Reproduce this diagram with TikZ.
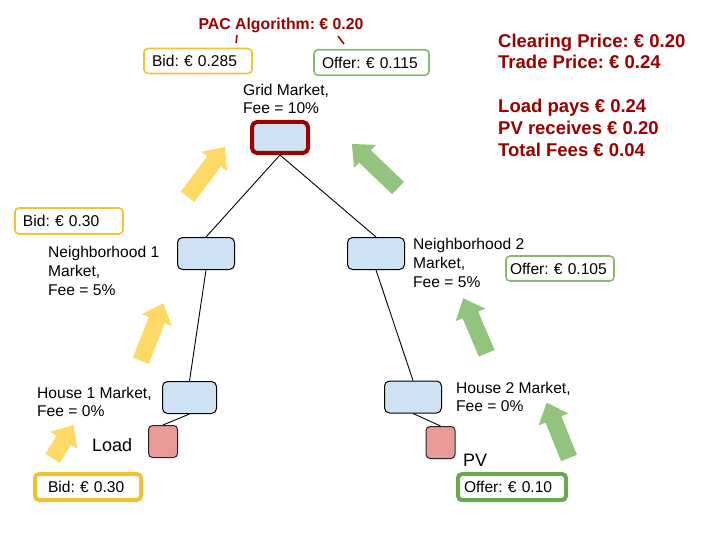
\documentclass[tikz,border=0pt]{standalone}
\usepackage{fontspec}
\setmainfont{Liberation Sans}
\usetikzlibrary{calc}
\frenchspacing
\definecolor{nodeblue}{HTML}{CFE2F3}
\definecolor{devred}{HTML}{EA9999}
\definecolor{darkred}{HTML}{990000}
\definecolor{bidyellow}{HTML}{F1C232}
\definecolor{arrowyellow}{HTML}{FFD966}
\definecolor{offgreen}{HTML}{6AA84F}
\definecolor{arrowgreen}{HTML}{93C47D}
\newcommand\blockarrow[3]{%
  \coordinate (ba-t) at (#1);
  \coordinate (ba-h) at (#2);
  \coordinate (ba-b) at ($(ba-h)!18pt!(ba-t)$);
  \fill[#3] ($(ba-t)!8.5pt!90:(ba-h)$) -- ($(ba-b)!8.5pt!-90:(ba-t)$)
    -- ($(ba-b)!16pt!-90:(ba-t)$) -- (ba-h) -- ($(ba-b)!16pt!90:(ba-t)$)
    -- ($(ba-b)!8.5pt!90:(ba-t)$) -- ($(ba-t)!8.5pt!-90:(ba-h)$) -- cycle;
}
\tikzset{
  mkt/.style={draw=black, line width=1pt, fill=nodeblue, rounded corners=5pt,
    minimum width=57pt, minimum height=32pt, inner sep=0pt},
  dev/.style={draw=black!85, line width=1pt, fill=devred, rounded corners=4pt,
    minimum width=29pt, minimum height=32pt, inner sep=0pt},
  lbl/.style={anchor=west, inner sep=0pt, align=left},
  tag/.style={rounded corners=4pt, fill=white, inner sep=0pt, align=left},
  bidthin/.style={tag, draw=bidyellow, line width=1.6pt},
  bidthick/.style={tag, draw=bidyellow, line width=4pt},
  offthin/.style={tag, draw=offgreen!80, line width=1.6pt},
  offthick/.style={tag, draw=offgreen, line width=4pt},
  summary/.style={anchor=west, inner sep=0pt, text=darkred,
    font=\fontsize{18.5}{21.7}\selectfont\bfseries, text height=13pt, text depth=4pt},
  conn/.style={draw=black, line width=0.9pt},
}
\begin{document}
\begin{tikzpicture}[x=1pt, y=-1pt, font=\fontsize{15.6}{18.8}\selectfont]
\useasboundingbox (0,0) rectangle (720,540);
\fill[white] (0,0) rectangle (720,540);

% block arrows
\blockarrow{187.5,196.7}{225,147}{arrowyellow}
\blockarrow{140.8,360.8}{163.3,303.3}{arrowyellow}
\blockarrow{52.5,458.3}{73.3,425}{arrowyellow}
\blockarrow{398,188}{352,144}{arrowgreen}
\blockarrow{486.7,353.3}{463.3,298.3}{arrowgreen}
\blockarrow{569,458}{546.7,402.7}{arrowgreen}

% market nodes
\node[mkt, draw=darkred, line width=4pt, minimum width=56pt, minimum height=31pt] (grid) at (280,137.5) {};
\node[mkt] (n1) at (206,253.5) {};
\node[mkt] (n2) at (376,253.5) {};
\node[mkt, minimum width=54pt] (h1) at (189.5,397.5) {};
\node[mkt] (h2) at (413,397) {};
\node[dev] (load) at (163,441.5) {};
\node[dev] (pv) at (440.5,442.5) {};

% connectors
\draw[conn] (grid.south) -- (n1.north);
\draw[conn] (grid.south) -- (n2.north);
\draw[conn] (n1.south) -- (h1.north);
\draw[conn] (n2.south) -- (h2.north);
\draw[conn] (h1.south) -- (load.north);
\draw[conn] (h2.south) -- (pv.north);

% labels
\node[lbl] (gridtxt) at (243,99) {Grid Market,\\Fee = 10\%};
\node[lbl] (n1txt) at (48,271) {Neighborhood 1\\Market,\\Fee = 5\%};
\node[lbl] (n2txt) at (413,263) {Neighborhood 2\\Market,\\Fee = 5\%};
\node[lbl] (h1txt) at (37,402) {House 1 Market,\\Fee = 0\%};
\node[lbl] (h2txt) at (456,397) {House 2 Market,\\Fee = 0\%};
\node[lbl, font=\fontsize{18}{21}\selectfont] (loadtxt) at (92,445) {Load};
\node[lbl, font=\fontsize{18}{21}\selectfont] (pvtxt) at (463,460) {PV};

% bid / offer tags
\node[bidthin, minimum width=108pt, minimum height=25pt, text width=92pt] (bid285) at (198,61) {Bid: € 0.285};
\node[offthin, minimum width=115pt, minimum height=25.5pt, text width=99pt] (off115) at (371.5,62.5) {Offer: € 0.115};
\node[bidthin, minimum width=108pt, minimum height=26pt, text width=92pt] (bid30a) at (69,221) {Bid: € 0.30};
\node[offthin, minimum width=108pt, minimum height=25pt, text width=100pt] (off105) at (560,268.5) {Offer: € 0.105};
\node[bidthick, minimum width=106pt, minimum height=26pt, text width=80pt] (bid30b) at (88,487) {Bid: € 0.30};
\node[offthick, minimum width=108pt, minimum height=26pt, text width=96pt] (off10) at (512,487) {Offer: € 0.10};

% PAC algorithm
\node[inner sep=0pt, text=darkred, font=\fontsize{15.8}{18}\selectfont\bfseries] (pac) at (281,25) {PAC Algorithm: € 0.20};
\coordinate (pa1) at (237,35);
\coordinate (pa2) at (236,43);
\coordinate (pb1) at (338,36);
\coordinate (pb2) at (344,44);
\draw[darkred, line width=1.5pt] (pa1) -- (pa2);
\draw[darkred, line width=1.5pt] (pb1) -- (pb2);

% summary
\node[summary] (s1) at (498,43) {Clearing Price: € 0.20};
\node[summary] (s2) at (498,64.5) {Trade Price: € 0.24};
\node[summary] (s3) at (498,108) {Load pays € 0.24};
\node[summary] (s4) at (498,130) {PV receives € 0.20};
\node[summary] (s5) at (498,152) {Total Fees € 0.04};
\end{tikzpicture}
\end{document}
